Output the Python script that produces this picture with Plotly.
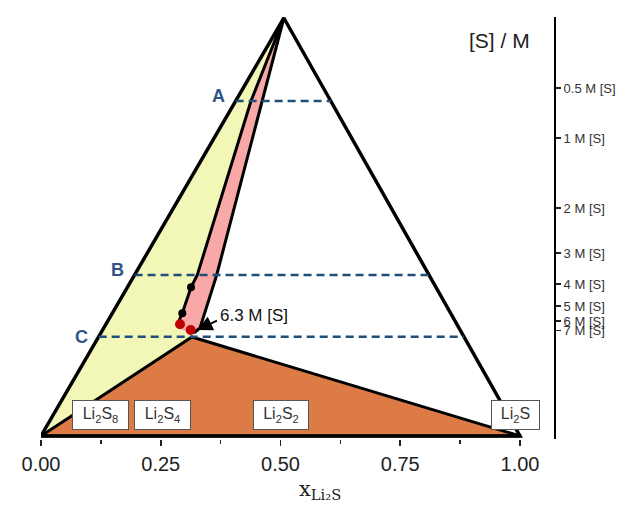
import plotly.graph_objects as go

# ---------------- data ----------------
apex_x = 0.507
triangle_x = [0.0, apex_x, 1.0, 0.0]
triangle_y = [0.0, 1.0, 0.0, 0.0]

orange_x = [0.0, 0.3152, 1.0]
orange_y = [0.0, 0.2368, 0.0]

pink_left_x = [0.507, 0.4384, 0.3263, 0.3132, 0.2950, 0.2860]
pink_left_y = [1.0, 0.8014, 0.3852, 0.3557, 0.2935, 0.2703]
pink_bottom_x = [0.2944, 0.3152]
pink_bottom_y = [0.2536, 0.2440]
pink_right_x = [0.507, 0.4614, 0.3668, 0.3319, 0.3194]
pink_right_y = [1.0, 0.8014, 0.3852, 0.2584, 0.2464]

black_dots_x = [0.3132, 0.2950]
black_dots_y = [0.3557, 0.2935]
red_dots_x = [0.2902, 0.3125]
red_dots_y = [0.2672, 0.2536]

cut_labels = ["A", "B", "C"]
cut_heights = [0.8014, 0.3852, 0.2376]

conc_labels = ["0.5 M [S]", "1 M [S]", "2 M [S]", "3 M [S]", "4 M [S]",
               "5 M [S]", "6 M [S]", "7 M [S]"]
conc_heights = [0.8325, 0.7129, 0.5455, 0.4378, 0.3636, 0.3110, 0.2751, 0.2524]

compound_labels = ["Li<sub>2</sub>S<sub>8</sub>", "Li<sub>2</sub>S<sub>4</sub>",
                   "Li<sub>2</sub>S<sub>2</sub>", "Li<sub>2</sub>S"]
compound_x = [0.125, 0.253, 0.501, 0.99]
compound_box_w = [45, 45, 44, 37]

x_ticks = [0.0, 0.25, 0.5, 0.75, 1.0]
x_ticktext = ["0.00", "0.25", "0.50", "0.75", "1.00"]
x_minor = [0.125, 0.375, 0.625, 0.875]

arrow_label = "6.3 M [S]"
arrow_tip = (0.3265, 0.2536)
arrow_text_pos = (0.3695, 0.289)

# ---------------- figure ----------------
YELLOW = "#f2f7b8"
PINK = "#f9a8a8"
ORANGE = "#dd7b46"
DASH_BLUE = "#1f4e79"
LABEL_BLUE = "#2f5488"
FONT = "Liberation Sans, Arial"

fig = go.Figure()

# yellow region: left edge + pink left border down to orange apex
yellow_x = [0.0] + pink_left_x + pink_bottom_x[:1] + [orange_x[1], 0.0]
yellow_y = [0.0] + pink_left_y + pink_bottom_y[:1] + [orange_y[1], 0.0]
fig.add_trace(go.Scatter(x=yellow_x, y=yellow_y, fill="toself", fillcolor=YELLOW,
                         mode="lines", line=dict(width=0), hoverinfo="skip"))

# pink region
pink_x = pink_left_x + pink_bottom_x + pink_right_x[::-1]
pink_y = pink_left_y + pink_bottom_y + pink_right_y[::-1]
fig.add_trace(go.Scatter(x=pink_x, y=pink_y, fill="toself", fillcolor=PINK,
                         mode="lines", line=dict(width=0), hoverinfo="skip"))

# orange region
fig.add_trace(go.Scatter(x=orange_x + [orange_x[0]], y=orange_y + [orange_y[0]],
                         fill="toself", fillcolor=ORANGE, mode="lines",
                         line=dict(color="black", width=3), hoverinfo="skip",
                         cliponaxis=False))

# pink borders
for bx, by in [(pink_left_x, pink_left_y), (pink_right_x, pink_right_y)]:
    fig.add_trace(go.Scatter(x=bx, y=by, mode="lines",
                             line=dict(color="black", width=3), hoverinfo="skip",
                             cliponaxis=False))

# triangle outline
fig.add_trace(go.Scatter(x=triangle_x, y=triangle_y, mode="lines",
                         line=dict(color="black", width=3.5), hoverinfo="skip",
                         cliponaxis=False))

# dashed cut lines A, B, C
for lab, h in zip(cut_labels, cut_heights):
    xl = h * apex_x
    xr = 1.0 - h * (1.0 - apex_x)
    fig.add_trace(go.Scatter(x=[xl, xr], y=[h, h], mode="lines",
                             line=dict(color=DASH_BLUE, width=2.5, dash="8px,5px"),
                             hoverinfo="skip"))
    fig.add_annotation(x=xl, y=h, text=f"<b>{lab}</b>", showarrow=False,
                       xanchor="center", yanchor="middle",
                       xshift=-17, yshift=(0 if lab == "C" else 5),
                       font=dict(family=FONT, size=18, color=LABEL_BLUE))

# dots
fig.add_trace(go.Scatter(x=black_dots_x, y=black_dots_y, mode="markers",
                         marker=dict(color="black", size=8), hoverinfo="skip"))
fig.add_trace(go.Scatter(x=red_dots_x, y=red_dots_y, mode="markers",
                         marker=dict(color="#c00000", size=10), hoverinfo="skip"))

# arrow + label
fig.add_annotation(x=arrow_tip[0], y=arrow_tip[1], ax=21, ay=-10, text="",
                   showarrow=True, arrowhead=2, arrowsize=1.5, arrowwidth=2,
                   arrowcolor="black", axref="pixel", ayref="pixel")
fig.add_annotation(x=arrow_text_pos[0], y=arrow_text_pos[1], text=arrow_label,
                   showarrow=False, xanchor="left", yanchor="middle",
                   font=dict(family=FONT, size=17, color="#111"))

# compound boxes
for lab, cx, bw in zip(compound_labels, compound_x, compound_box_w):
    fig.add_annotation(x=cx, y=0.0514, text=lab, showarrow=False,
                       xanchor="center", yanchor="middle",
                       width=bw, height=18,
                       bgcolor="white", bordercolor="#555", borderwidth=1,
                       borderpad=5,
                       font=dict(family=FONT, size=16, color="#333"))

# right-axis title
fig.add_annotation(x=0.958, y=0.947, text="[S] / M", showarrow=False,
                   xanchor="center", yanchor="middle",
                   font=dict(family=FONT, size=21, color="#222"))

# x-axis title
fig.add_annotation(xref="x", yref="paper", x=0.582, y=-0.122,
                   text="x<sub>Li₂S</sub>", showarrow=False,
                   xanchor="center", yanchor="middle",
                   font=dict(family="DejaVu Serif, Liberation Serif", size=21,
                             color="#222"))

fig.update_layout(
    width=621, height=513,
    margin=dict(l=41, r=67, t=17, b=74, autoexpand=False),
    paper_bgcolor="white", plot_bgcolor="white",
    showlegend=False,
    xaxis=dict(range=[0, 1.071], showgrid=False, zeroline=False, showline=False,
               automargin=False,
               tickmode="array", tickvals=x_ticks, ticktext=x_ticktext,
               ticks="outside", ticklen=6, tickwidth=1.5, tickcolor="#222",
               ticklabelstandoff=1,
               minor=dict(tickmode="array", tickvals=x_minor, ticks="outside",
                          ticklen=4, tickwidth=1.5, tickcolor="#222"),
               tickfont=dict(family=FONT, size=20, color="#222"),
               fixedrange=True),
    yaxis=dict(range=[-0.0072, 1.0024], side="right", showgrid=False,
               zeroline=False, showline=True, linecolor="black", linewidth=2,
               automargin=False,
               tickmode="array", tickvals=conc_heights, ticktext=conc_labels,
               ticks="outside", ticklen=5, tickwidth=1.5, tickcolor="#222",
               tickfont=dict(family=FONT, size=13, color="#333"),
               fixedrange=True),
)

fig.write_html("out.html",
               config={"displayModeBar": False, "staticPlot": True},
               post_script="document.body.style.margin='0px';"
                           "document.body.style.overflow='hidden';")
